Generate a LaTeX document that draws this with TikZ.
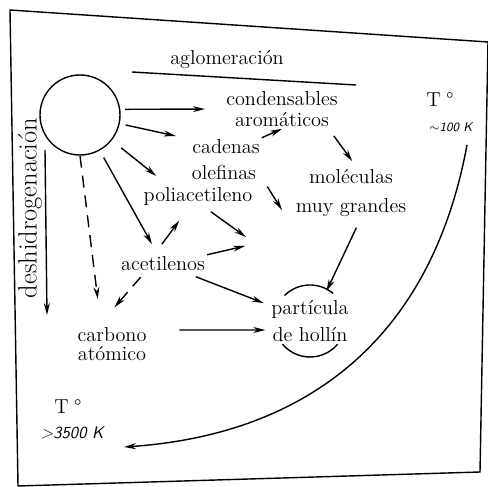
\documentclass[tikz,border=0pt]{standalone}
\usetikzlibrary{arrows.meta}
\tikzset{
  word/.style={inner sep=1pt, align=center, font=\fontsize{14.4}{15}\selectfont},
  temp/.style={inner sep=1pt, font=\sffamily\itshape},
  arrow/.style={-{Stealth[length=3mm,width=1.5mm]}, line width=1pt},
  dasharrow/.style={arrow, dash pattern=on 3mm off 2mm}
}

\begin{document}
\begin{tikzpicture}[x=0.025cm, y=0.025cm, line width=1pt]
    \useasboundingbox (0,0) rectangle (488,487);
    % frame
    \draw (10,477) -- (488,445) -- (480,15) -- (18,1) -- cycle;

    \node[circle, draw, minimum size=2cm, inner sep=0pt] (drop) at (80,372) {};
    \node[word] (aglo) at (227,427) {aglomeración};
    \node[word] (cond) at (282,378) {condensables\\aromáticos};
    \node[word] (cad) at (226,340) {cadenas};
    \node[word] (ole) at (224,315) {olefinas};
    \node[word] (poli) at (198,291) {poliacetileno};
    \node[word] (mol) at (351,294) {moléculas\\[6pt]muy grandes};
    \node[word] (acet) at (163,223) {acetilenos};
    \node[word] (carb) at (112,143) {carbono\\[-1pt]atómico};
    \node[word] (part) at (310,166) {partícula\\[4pt]de hollín};
    \node[word, rotate=90, font=\fontsize{18.8}{20}\selectfont] (desh) at (30,279) {deshidrogenación};
    \node[word] (tcold) at (440,387) {T\;°};
    \node[temp, font=\sffamily\itshape\small] (kcold) at (451,360) {$\sim$100 K};
    \node[word] (thot) at (68,80) {T\;°};
    \node[temp, font=\sffamily\itshape\large] (khot) at (72,54) {>3500 K};

    \coordinate (agl-a) at (132,415);
    \coordinate (agl-b) at (356,402);
    \coordinate (desh-a) at (45,337);
    \coordinate (desh-b) at (47,172);
    \coordinate (pa) at (246,250);
    \coordinate (pb) at (245,241);
    \coordinate (pc) at (282,277);
    \coordinate (tlow) at (467,342);
    \coordinate (thigh) at (124,40);

    \draw (agl-a) -- (agl-b);
    \draw[arrow] (desh-a) -- (desh-b);

    \draw[arrow, shorten <=0.12cm, shorten >=0.48cm] (drop.8) -- (cond.west);
    \draw[arrow, shorten <=0.15cm, shorten >=0.37cm] (drop) -- (cad);
    \draw[arrow, shorten <=0.3cm, shorten >=0.36cm] (drop) -- (poli.160);
    \draw[arrow, shorten <=0.2cm, shorten >=0.3cm] (drop) -- (acet);
    \draw[dasharrow, shorten >=0.65cm] (drop.south) -- (carb.120);
    \draw[arrow, shorten <=0.33cm, shorten >=0.42cm] (acet.134) -- (poli.-128);
    \draw[dasharrow, shorten <=0.13cm, shorten >=0.58cm] (acet.206) -- (carb.124);
    \draw[arrow, shorten <=0.2cm] (poli.-60) -- (pa);
    \draw[arrow] (acet.north east) -- (pb);
    \draw[arrow, shorten <=0.43cm] (ole.east) -- (pc);
    \draw[arrow, shorten <=0.24cm, shorten >=0.15cm] (acet) -- (part);
    \draw[arrow, shorten <=0.77cm, shorten >=0.1cm] ([yshift=0.35cm]carb.east) -- ([yshift=-0.225cm]part.west);
    \draw[arrow] (cad.north east) -- (cond.south);
    \draw[arrow, shorten <=0.22cm, shorten >=0.18cm] (cond.-23) -- (mol.78);
    \draw[arrow, shorten <=0.24cm, shorten >=0.2cm] (mol.-70) -- (part.60);

    % arcs round the soot particle
    \draw (part.center) ++(50:36) arc[start angle=50, end angle=135, radius=36];
    \draw (part.center) ++(220:36) arc[start angle=220, end angle=320, radius=36];

    % temperature curve
    \draw[arrow] (tlow) .. controls (430,142) and (300,52) .. (thigh);
\end{tikzpicture}
\end{document}
